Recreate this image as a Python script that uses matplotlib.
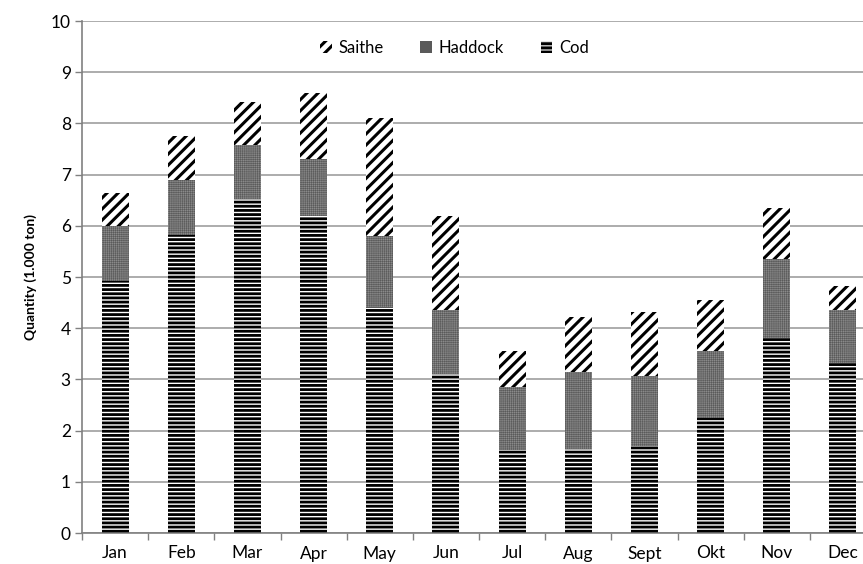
import matplotlib.pyplot as plt
import numpy as np

months = ["Jan", "Feb", "Mar", "Apr", "May", "Jun", "Jul", "Aug", "Sept", "Okt", "Nov", "Dec"]
# stacked values (1.000 ton)
cod = [4.92, 5.82, 6.52, 6.20, 4.42, 3.10, 1.62, 1.65, 1.70, 2.25, 3.80, 3.32]
haddock = [1.08, 1.08, 1.05, 1.10, 1.38, 1.25, 1.23, 1.50, 1.37, 1.30, 1.55, 1.03]
saithe = [0.65, 0.85, 0.85, 1.30, 2.30, 1.85, 0.70, 1.07, 1.25, 1.00, 1.00, 0.47]

plt.rcParams['font.family'] = ['Lato', 'DejaVu Sans']

fig = plt.figure(figsize=(8.63, 5.64), dpi=100)
ax = fig.add_axes([82 / 863, 31 / 564, 794 / 863, 512 / 564])

x = np.arange(len(months))
w = 0.41
cod = np.array(cod)
haddock = np.array(haddock)
saithe = np.array(saithe)

plt.rcParams['hatch.linewidth'] = 2.0
b_cod = ax.bar(x, cod, width=w, color='white', edgecolor='black', hatch='----', linewidth=0, zorder=3, label='Cod')
plt.rcParams['hatch.linewidth'] = 0.4
b_had = ax.bar(x, haddock, bottom=cod, width=w, color='#8a8a8a', edgecolor='#5a5a5a', hatch='++++++++', linewidth=0, zorder=3, label='Haddock')
plt.rcParams['hatch.linewidth'] = 2.2
b_sai = ax.bar(x, saithe, bottom=cod + haddock, width=w, color='white', edgecolor='black', hatch='///', linewidth=0, zorder=3, label='Saithe')

ax.set_xlim(-0.5, 11.5)
ax.set_ylim(0, 10)
ax.set_yticks(range(0, 11))
ax.set_xticks(x)
ax.set_xticklabels(months)
ax.set_xticks(np.arange(-0.5, 12, 1), minor=True)
ax.tick_params(axis='x', which='major', length=0, pad=9, labelsize=12.5)
ax.tick_params(axis='x', which='minor', length=5, color='#808080', width=1)
ax.tick_params(axis='y', length=5, color='#808080', width=1, labelsize=12.5, pad=3)

ax.grid(axis='y', color='#a6a6a6', linewidth=1.3, zorder=0)
for s in ['top', 'right']:
    ax.spines[s].set_visible(False)
ax.spines['left'].set_color('#808080')
ax.spines['bottom'].set_color('#808080')
ax.spines['left'].set_linewidth(1.2)
ax.spines['bottom'].set_linewidth(1.2)

ax.set_ylabel('Quantity (1.000 ton)', fontweight='bold', fontsize=10, labelpad=10)

ax.legend(handles=[b_sai, b_had, b_cod], loc='upper center', bbox_to_anchor=(0.469, 0.993),
          ncol=3, frameon=False, fontsize=12, handlelength=0.7, handleheight=0.7,
          handletextpad=0.4, columnspacing=2.2)

fig.savefig('out.png', dpi=100)
